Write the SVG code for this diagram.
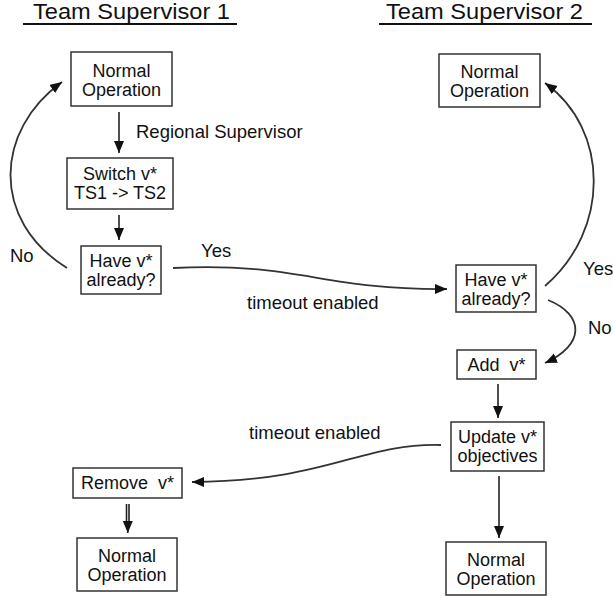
<svg xmlns="http://www.w3.org/2000/svg" width="613" height="600" viewBox="0 0 613 600">
<style>
.bg{fill:#fff}
.box{fill:#fff;stroke:#333;stroke-width:1.5}
.t{font-family:"Liberation Sans",Arial,sans-serif;font-size:18px;fill:#111;text-anchor:middle;white-space:pre}
.lbl{font-family:"Liberation Sans",Arial,sans-serif;font-size:18.5px;fill:#111}
.title{font-family:"Liberation Sans",Arial,sans-serif;font-size:22px;fill:#111}
.ul{stroke:#111;stroke-width:2}
.c{fill:none;stroke:#222;stroke-width:1.6}
.cv{fill:none;stroke:#333;stroke-width:1.8}
</style>
<defs>
<marker id="ah" markerUnits="userSpaceOnUse" markerWidth="13" markerHeight="11" refX="12" refY="5" orient="auto">
<path d="M0,0 L12,5 L0,10 z" fill="#111"/>
</marker>
</defs>
<rect class="bg" width="613" height="600"/>
<g id="titles">
<text class="title" x="33" y="19" textLength="197" lengthAdjust="spacingAndGlyphs">Team Supervisor 1</text>
<line class="ul" x1="23" y1="24" x2="237" y2="24"/>
<text class="title" x="386" y="19" textLength="197" lengthAdjust="spacingAndGlyphs">Team Supervisor 2</text>
<line class="ul" x1="379" y1="24" x2="592" y2="24"/>
</g>
<g id="connectors">
<path class="c" d="M119,112 L119,153" marker-end="url(#ah)"/>
<path class="c" d="M119,215 L119,240" marker-end="url(#ah)"/>
<path class="cv" d="M67,268 C-10,220 -5,130 62,82" marker-end="url(#ah)"/>
<path class="cv" d="M173,268 C300,262 320,290 447,289" marker-end="url(#ah)"/>
<path class="cv" d="M545,286 C610,230 610,130 545,83" marker-end="url(#ah)"/>
<path class="cv" d="M548,300 C585,315 585,345 545,363" marker-end="url(#ah)"/>
<path class="c" d="M498,384 L498,418" marker-end="url(#ah)"/>
<path class="c" d="M499,476 L499,538" marker-end="url(#ah)"/>
<path class="cv" d="M441,445 C360,443 330,481 192,482" marker-end="url(#ah)"/>
<line class="c" x1="126.5" y1="504" x2="126.5" y2="525" stroke-width="1.2"/>
<line class="c" x1="129" y1="504" x2="129" y2="525" stroke-width="1.2"/>
<path class="c" d="M127.8,522 L127.8,533" marker-end="url(#ah)" stroke-width="0.5"/>
<text class="lbl" x="136" y="138">Regional Supervisor</text>
<text class="lbl" x="10" y="262">No</text>
<text class="lbl" x="201" y="257">Yes</text>
<text class="lbl" x="247" y="309">timeout enabled</text>
<text class="lbl" x="583" y="275">Yes</text>
<text class="lbl" x="588" y="334">No</text>
<text class="lbl" x="249" y="439">timeout enabled</text>
</g>
<g id="n1">
<rect class="box" x="71" y="52" width="101" height="54"/>
<text class="t" x="121.5" y="77">Normal</text>
<text class="t" x="121.5" y="96">Operation</text>
</g>
<g id="n2">
<rect class="box" x="67" y="158" width="106" height="51"/>
<text class="t" x="120" y="180">Switch v*</text>
<text class="t" x="120" y="199">TS1 -&gt; TS2</text>
</g>
<g id="n3">
<rect class="box" x="81" y="246" width="80" height="48"/>
<text class="t" x="121" y="267">Have v*</text>
<text class="t" x="121" y="286">already?</text>
</g>
<g id="n4">
<rect class="box" x="439" y="54" width="101" height="53"/>
<text class="t" x="489.5" y="78">Normal</text>
<text class="t" x="489.5" y="97">Operation</text>
</g>
<g id="n5">
<rect class="box" x="456" y="265" width="80" height="47"/>
<text class="t" x="496" y="286">Have v*</text>
<text class="t" x="496" y="305">already?</text>
</g>
<g id="n6">
<rect class="box" x="457" y="350" width="79" height="29"/>
<text class="t" x="496.5" y="371">Add  v*</text>
</g>
<g id="n7">
<rect class="box" x="451" y="422" width="93" height="49"/>
<text class="t" x="497.5" y="443">Update v*</text>
<text class="t" x="497.5" y="462">objectives</text>
</g>
<g id="n8">
<rect class="box" x="446" y="542" width="100" height="53"/>
<text class="t" x="496" y="566">Normal</text>
<text class="t" x="496" y="585">Operation</text>
</g>
<g id="n9">
<rect class="box" x="73" y="468" width="109" height="30"/>
<text class="t" x="127.5" y="489">Remove  v*</text>
</g>
<g id="n10">
<rect class="box" x="77" y="538" width="100" height="53"/>
<text class="t" x="127" y="562">Normal</text>
<text class="t" x="127" y="581">Operation</text>
</g>
</svg>
